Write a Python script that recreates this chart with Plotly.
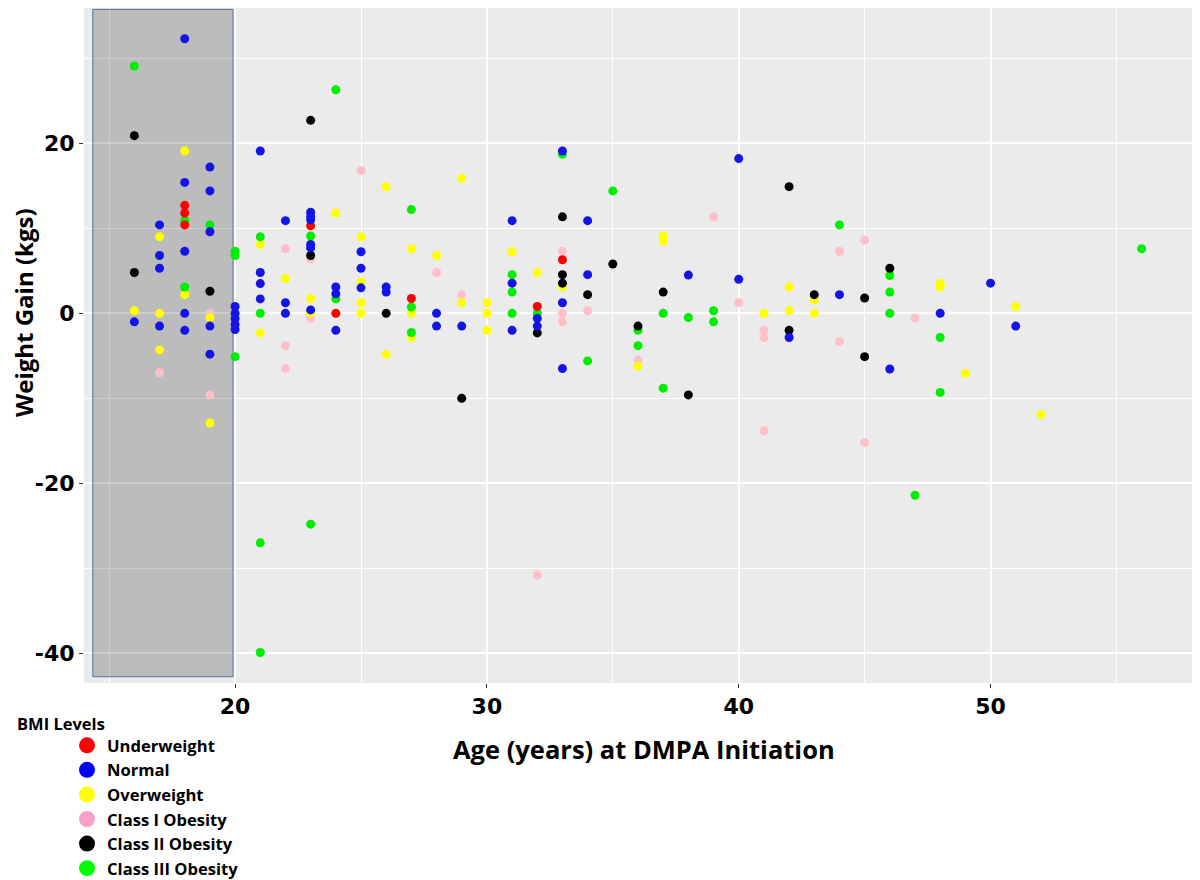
import plotly.graph_objects as go

# ---------------- data ----------------
uw_age  = [18, 18, 18, 23, 24, 27, 32, 33]
uw_gain = [12.7, 11.8, 10.4, 10.3, 0, 1.75, 0.8, 6.3]

nm_age  = [16, 17, 17, 17, 17, 18, 18, 18, 18, 18, 19, 19, 19, 19, 19,
           20, 20, 20, 20, 20, 21, 21, 21, 21, 22, 22, 22,
           23, 23, 23, 23, 23, 23, 24, 24, 24, 25, 25, 25, 26, 26,
           28, 28, 29, 31, 31, 31, 32, 32, 33, 33, 33, 34, 34,
           38, 40, 40, 42, 44, 46, 48, 50, 51]
nm_gain = [-1.0, 10.4, 6.8, 5.3, -1.5, 32.3, 15.4, 7.3, 0, -2.0, 17.2, 14.4, 9.6, -1.5, -4.8,
           0.8, 0, -0.6, -1.3, -1.9, 19.1, 4.8, 3.5, 1.7, 10.9, 1.25, 0,
           11.9, 11.4, 11.0, 8.1, 7.7, 0.4, 3.1, 2.3, -2.0, 7.25, 5.3, 3.0, 3.1, 2.5,
           0, -1.5, -1.5, 10.9, 3.55, -2.0, -0.6, -1.5, 19.1, 1.25, -6.5, 10.9, 4.55,
           4.5, 18.2, 4.0, -2.85, 2.2, -6.55, 0, 3.55, -1.5]

ow_age  = [16, 17, 17, 17, 18, 18, 19, 19, 21, 21, 22, 23, 23, 24,
           25, 25, 25, 25, 26, 26, 27, 27, 27, 28, 29, 29, 30, 30, 30,
           31, 32, 33, 36, 37, 37, 41, 42, 42, 43, 43, 48, 48, 49, 51, 52]
ow_gain = [0.3, 9.0, 0, -4.3, 19.1, 2.2, -0.5, -12.9, 8.1, -2.3, 4.1, 1.75, 0, 11.8,
           9.0, 3.7, 1.25, 0, 14.9, -4.8, 7.6, 0, -2.85, 6.8, 15.9, 1.25, 1.25, 0, -2.0,
           7.25, 4.8, 3.1, -6.2, 9.1, 8.5, 0, 3.1, 0.3, 1.6, 0, 3.55, 3.1, -7.05, 0.8, -11.9]

c1_age  = [17, 19, 19, 22, 22, 22, 23, 23, 25, 28, 29, 32, 32, 33, 33, 33, 34,
           36, 39, 40, 41, 41, 41, 44, 44, 45, 45, 47]
c1_gain = [-7.0, 0, -9.6, 7.6, -3.8, -6.5, 6.4, -0.6, 16.8, 4.8, 2.2, 0, -30.8, 7.3, 0, -1.0, 0.3,
           -5.5, 11.35, 1.25, -2.0, -2.85, -13.8, 7.3, -3.3, 8.6, -15.2, -0.55]

c2_age  = [16, 16, 19, 23, 23, 26, 29, 32, 33, 33, 33, 34, 35, 36, 37, 38,
           42, 42, 43, 45, 45, 46]
c2_gain = [20.9, 4.8, 2.6, 22.7, 6.8, 0, -10.0, -2.3, 11.35, 4.55, 3.55, 2.2, 5.8, -1.5, 2.5, -9.6,
           14.9, -2.0, 2.2, 1.8, -5.1, 5.3]

c3_age  = [16, 18, 18, 19, 20, 20, 20, 21, 21, 21, 21, 23, 23, 24, 24,
           27, 27, 27, 31, 31, 31, 32, 33, 34, 35, 36, 36, 37, 37, 38, 39, 39,
           44, 46, 46, 46, 47, 48, 48, 56]
c3_gain = [29.1, 10.9, 3.1, 10.4, 7.3, 6.8, -5.1, 9.0, 0, -27.0, -39.9, 9.1, -24.8, 26.3, 1.7,
           12.2, 0.75, -2.25, 4.55, 2.5, 0, 0, 18.7, -5.6, 14.4, -2.0, -3.8, 0, -8.8, -0.5, 0.3, -1.0,
           10.4, 4.45, 2.5, 0, -21.4, -2.85, -9.3, 7.6]

levels = ["Underweight", "Normal", "Overweight", "Class I Obesity", "Class II Obesity", "Class III Obesity"]
x_ticks = [20, 30, 40, 50]
y_ticks = [-40, -20, 0, 20]
y_tick_text = ["-40", "-20", "0", "20"]

# ---------------- styling ----------------
point_colors = {"Underweight": "#FF0000", "Normal": "#1414E6", "Overweight": "#FFFF00",
                "Class I Obesity": "#FFC0CB", "Class II Obesity": "#000000",
                "Class III Obesity": "#00EE00"}
legend_colors = {"Underweight": "#FF0000", "Normal": "#0000FF", "Overweight": "#FFFF00",
                 "Class I Obesity": "#F7A1C8", "Class II Obesity": "#000000",
                 "Class III Obesity": "#00FF00"}

series = {"Underweight": (uw_age, uw_gain), "Normal": (nm_age, nm_gain),
          "Overweight": (ow_age, ow_gain), "Class I Obesity": (c1_age, c1_gain),
          "Class II Obesity": (c2_age, c2_gain), "Class III Obesity": (c3_age, c3_gain)}

fig = go.Figure()
draw_order = ["Class I Obesity", "Overweight", "Class III Obesity", "Class II Obesity", "Underweight", "Normal"]
for lv in draw_order:
    xs, ys = series[lv]
    fig.add_trace(go.Scatter(x=xs, y=ys, mode="markers", name=lv, showlegend=False,
                             marker=dict(size=9, color=point_colors[lv], line=dict(width=0))))
# legend entries
for lv in levels:
    fig.add_trace(go.Scatter(x=[None], y=[None], mode="markers", name=lv, showlegend=True,
                             marker=dict(size=16, color=legend_colors[lv], line=dict(width=0))))

fig.add_shape(type="rect", xref="x", yref="y", x0=14.35, x1=19.92, y0=-42.75, y1=35.76,
              fillcolor="rgba(0,0,0,0.2)", line=dict(color="#4C73A0", width=1), layer="between")

# page has an 8px body margin; design coordinates = screen - 8
W, H = 1184, 872
ml, mr, mt, mb = 76, 0, 0, 197
pw, ph = W - ml - mr, H - mt - mb
OFF = 8
def px(t):   # target screen x -> paper
    return (t - OFF - ml) / pw
def py(t):   # target screen y -> paper
    return (ph + mt - (t - OFF)) / ph

fig.update_layout(
    width=W, height=H, margin=dict(l=ml, r=mr, t=mt, b=mb, autoexpand=False),
    paper_bgcolor="white", plot_bgcolor="#EBEBEB",
    xaxis=dict(range=[14, 58], tickvals=x_ticks, ticktext=[str(v) for v in x_ticks],
               showgrid=True, gridcolor="white", gridwidth=2, zeroline=False,
               ticks="outside", ticklen=4, tickcolor="#333333", tickwidth=1,
               tickfont=dict(family="DejaVu Sans", size=22, color="#000000", weight="bold"),
               minor=dict(tickvals=[15, 25, 35, 45, 55], showgrid=True, gridcolor="white", gridwidth=1, ticks=""),
               showline=False),
    yaxis=dict(range=[-43.49, 35.92], tickvals=y_ticks, ticktext=y_tick_text,
               showgrid=True, gridcolor="white", gridwidth=2, zeroline=False,
               ticks="outside", ticklen=4, tickcolor="#333333", tickwidth=1,
               tickfont=dict(family="DejaVu Sans", size=22, color="#000000", weight="bold"),
               minor=dict(tickvals=[-30, -10, 10, 30], showgrid=True, gridcolor="white", gridwidth=1, ticks=""),
               showline=False),
    legend=dict(x=(59 - ml) / pw, y=(ph - 720) / ph, xanchor="left", yanchor="top",
                font=dict(family="Open Sans", size=16.6, color="#000000", weight="bold"),
                tracegroupgap=0, bgcolor="rgba(0,0,0,0)", itemwidth=30),
    annotations=[
        dict(text="Age (years) at DMPA Initiation", xref="paper", yref="paper", x=px(644), y=py(749),
             xanchor="center", yanchor="middle", showarrow=False,
             font=dict(family="Open Sans", size=25.5, color="#000000", weight="bold")),
        dict(text="Weight Gain (kgs)", xref="paper", yref="paper", x=px(23), y=py(313),
             xanchor="center", yanchor="middle", showarrow=False, textangle=-90,
             font=dict(family="Open Sans", size=24, color="#000000", weight="bold")),
        dict(text="BMI Levels", xref="paper", yref="paper", x=px(15), y=py(723),
             xanchor="left", yanchor="middle", showarrow=False,
             font=dict(family="Open Sans", size=16.5, color="#000000", weight="bold")),
    ],
)

fig.write_html("out.html")
